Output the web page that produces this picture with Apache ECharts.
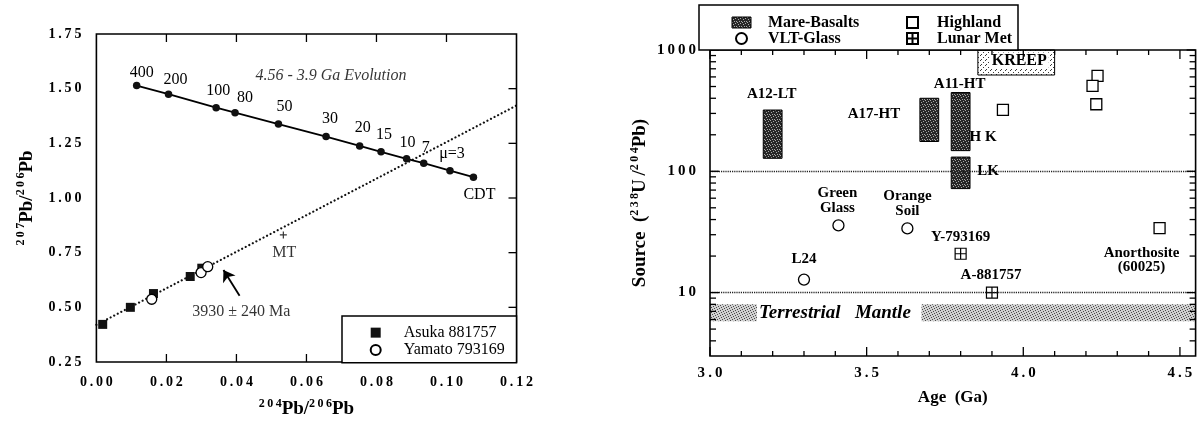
<!DOCTYPE html>
<html>
<head>
<meta charset="utf-8">
<script src="https://cdn.jsdelivr.net/npm/echarts@6/dist/echarts.min.js"></script>
<style>
  html, body { margin: 0; padding: 0; background: #fff; }
  #c { width: 1201px; height: 424px; }
</style>
</head>
<body>
<div id="c"></div>
<script>
// ---------- Pb-Pb isochron panel ----------
const cdtLabels = ['400', '200', '100', '80', '50', '30', '20', '15', '10', '7', 'μ=3', 'CDT'];
const cdtX = [0.0115, 0.0206, 0.0342, 0.0396, 0.0520, 0.0656, 0.0752, 0.0813, 0.0886, 0.0935, 0.1010, 0.1077];
const cdtY = [1.514, 1.475, 1.413, 1.390, 1.338, 1.281, 1.238, 1.211, 1.179, 1.159, 1.125, 1.095];
const isochronX = [0, 0.12];
const isochronY = [0.42, 1.423];
const asukaX = [0.0018, 0.0097, 0.0163, 0.0268, 0.0301];
const asukaY = [0.422, 0.500, 0.563, 0.641, 0.679];
const yamatoX = [0.0158, 0.0299, 0.0318];
const yamatoY = [0.537, 0.659, 0.686];
const mtPoint = [0.0534, 0.831];
const ageNote = { text: '3930 ± 240 Ma', at: [0.0414, 0.481] };
const ageArrowFrom = [0.0409, 0.553];
const ageArrowTo = [0.0363, 0.671];
const evolutionNote = { text: '4.56 - 3.9 Ga Evolution', at: [0.0670, 1.559] };
const pbXTicks = [0.02, 0.04, 0.06, 0.08, 0.10];
const pbYTicks = [0.50, 0.75, 1.00, 1.25, 1.50];

// ---------- source mu vs age panel ----------
const basaltNames = ['A12-LT', 'A17-HT', 'A11-HT', 'LK'];
const basaltAgeMin = [3.17, 3.67, 3.77, 3.77];
const basaltAgeMax = [3.23, 3.73, 3.83, 3.83];
const basaltMuMin = [128, 176, 148, 72];
const basaltMuMax = [320, 400, 446, 131];
const kreepAge = [3.855, 4.10];
const kreepMu = [622, 1000];
const mantleAgeMin = [3.0, 3.675];
const mantleAgeMax = [3.15, 4.55];
const mantleMu = [5.8, 8.0];
const highlandNames = ['', '', '', '', 'Anorthosite\n(60025)'];
const highlandAge = [3.935, 4.237, 4.221, 4.233, 4.435];
const highlandMu = [321, 611, 506, 357, 34];
const vltNames = ['L24', 'Green\nGlass', 'Orange\nSoil'];
const vltAge = [3.30, 3.41, 3.63];
const vltMu = [12.8, 35.8, 33.8];
const metNames = ['Y-793169', 'A-881757'];
const metAge = [3.80, 3.90];
const metMu = [20.9, 10.0];
const muRefLines = [100, 10];
const ageMajorTicks = [3.0, 3.5, 4.0, 4.5];
const ageMinorTicks = [3.1, 3.2, 3.3, 3.4, 3.6, 3.7, 3.8, 3.9, 4.1, 4.2, 4.3, 4.4];
const muMajorTicks = [10, 100, 1000];
const muMinorTicks = [4, 5, 6, 7, 8, 9, 20, 30, 40, 50, 60, 70, 80, 90, 200, 300, 400, 500, 600, 700, 800, 900];

// ---------- styling helpers ----------
const SERIF = '"Liberation Serif", "Times New Roman", serif';
const spaced = s => String(s).split('').join('\u2009');

function stipple(base, dot, cells, n) {
  const c = document.createElement('canvas');
  c.width = c.height = n;
  const g = c.getContext('2d');
  g.fillStyle = base; g.fillRect(0, 0, n, n);
  g.fillStyle = dot;
  cells.forEach(([i, j]) => g.fillRect(i, j, 1, 1));
  return { image: c, repeat: 'repeat' };
}
const basaltFill = stipple('#262626', '#a8a8a8', [[0, 0], [3, 1], [1, 2], [4, 4], [2, 4]], 5);
const kreepFill = stipple('#ffffff', '#3a3a3a', [[0, 0], [3, 2], [1, 4]], 5);
const mantleFill = stipple('#d0d0d0', '#4a4a4a', [[0, 0], [3, 1], [1, 2], [4, 3], [2, 4]], 5);

// label centre shifts (px) relative to each mark
const cdtLabelShift = {
  '400': [5, -13], '200': [7, -14], '100': [2, -17], '80': [10, -15], '50': [6, -17],
  '30': [4, -18], '20': [3, -18], '15': [3, -17], '10': [1, -16], '7': [2, -15],
  'μ=3': [2, -17], 'CDT': [6, 18]
};
const pointLabelShift = {
  'L24': [0, -20], 'Green\nGlass': [-1, -25], 'Orange\nSoil': [0, -25],
  'Y-793169': [0, -17], 'A-881757': [-1, -17], 'Anorthosite\n(60025)': [-18, 32]
};
// tags on the basalt boxes: anchor on the box, then shift
const basaltTags = {
  'A12-LT': [{ text: 'A12-LT', ax: 'mid', ay: 'top', dx: -1, dy: -16 }],
  'A17-HT': [{ text: 'A17-HT', ax: 'left', ay: 'mid', dx: -46, dy: -6 }],
  'A11-HT': [{ text: 'A11-HT', ax: 'mid', ay: 'top', dx: -1, dy: -8 },
             { text: 'H K', ax: 'right', ay: 'bottom', dx: 13, dy: -14 }],
  'LK': [{ text: 'LK', ax: 'right', ay: 'mid', dx: 18, dy: -2, bg: '#fff' }]
};

const boldText = size => ({ fontFamily: SERIF, fontWeight: 'bold', fontSize: size, color: '#000' });

function tickRenderer(o) {
  return function (params, api) {
    const cs = params.coordSys;
    const kind = api.value(2);
    const st = { stroke: '#000', lineWidth: 1.3 };
    const out = [];
    if (kind < 2) {
      const len = kind === 0 ? o.xMajor : o.xMinor;
      const px = api.coord([api.value(0), api.value(1)])[0];
      const b = cs.y + cs.height, t = cs.y;
      out.push({ type: 'line', shape: { x1: px, y1: b, x2: px, y2: b - len }, style: st });
      out.push({ type: 'line', shape: { x1: px, y1: t, x2: px, y2: t + len }, style: st });
    } else {
      const len = kind === 2 ? o.yMajor : o.yMinor;
      const py = api.coord([api.value(0), api.value(1)])[1];
      const l = cs.x, r = cs.x + cs.width;
      if (o.left) out.push({ type: 'line', shape: { x1: l, y1: py, x2: l + len, y2: py }, style: st });
      out.push({ type: 'line', shape: { x1: r, y1: py, x2: r - len, y2: py }, style: st });
    }
    return { type: 'group', children: out };
  };
}

const pbTickData = pbXTicks.map(v => [v, 1.0, 0]).concat(pbYTicks.map(v => [0.06, v, 2]));
const muTickData = ageMajorTicks.map(v => [v, 10, 0])
  .concat(ageMinorTicks.map(v => [v, 10, 1]))
  .concat(muMajorTicks.map(v => [3.5, v, 2]))
  .concat(muMinorTicks.map(v => [3.5, v, 3]));

const sup = { fontFamily: SERIF, fontWeight: 'bold', fontSize: 12, verticalAlign: 'top', color: '#000' };
const mainName = { fontFamily: SERIF, fontWeight: 'bold', fontSize: 19, lineHeight: 23, color: '#000' };

const chart = echarts.init(document.getElementById('c'));
chart.setOption({
  animation: false,
  backgroundColor: '#fff',
  grid: [
    { left: 96.4, right: 684.5, top: 34, bottom: 61.3, show: true, z: 10,
      borderColor: '#000', borderWidth: 1.6, backgroundColor: 'rgba(0,0,0,0)' },
    { left: 710, right: 5.4, top: 50, bottom: 68, show: true, z: 10,
      borderColor: '#000', borderWidth: 1.6, backgroundColor: 'rgba(0,0,0,0)' }
  ],
  xAxis: [
    { gridIndex: 0, type: 'value', min: 0, max: 0.12, interval: 0.02,
      axisLine: { show: false }, axisTick: { show: false }, splitLine: { show: false },
      axisLabel: Object.assign(boldText(14), { margin: 13, formatter: v => spaced(v.toFixed(2)) }),
      name: '{s|2\u20090\u20094}{b|Pb/}{s|2\u20090\u20096}{b|Pb}', nameLocation: 'middle', nameGap: 36,
      nameTextStyle: { rich: { s: sup, b: mainName } } },
    { gridIndex: 1, type: 'value', min: 3.0, max: 4.55, interval: 0.5,
      axisLine: { show: false }, axisTick: { show: false }, splitLine: { show: false },
      axisLabel: Object.assign(boldText(15), { margin: 10, interval: 0, showMaxLabel: true,
        formatter: v => Math.abs(v * 2 - Math.round(v * 2)) < 1e-6 ? spaced(v.toFixed(1)) : '' }),
      name: 'Age  (Ga)', nameLocation: 'middle', nameGap: 33,
      nameTextStyle: boldText(17) }
  ],
  yAxis: [
    { gridIndex: 0, type: 'value', min: 0.25, max: 1.75, interval: 0.25,
      axisLine: { show: false }, axisTick: { show: false }, splitLine: { show: false },
      axisLabel: Object.assign(boldText(14), { margin: 15, formatter: v => spaced(v.toFixed(2)) }),
      name: '{s|2\u20090\u20097}{b|Pb/}{s|2\u20090\u20096}{b|Pb}', nameLocation: 'middle', nameGap: 58,
      nameTextStyle: { rich: { s: sup, b: mainName } } },
    { gridIndex: 1, type: 'log', logBase: 10, min: 3, max: 1000,
      axisLine: { show: false }, axisTick: { show: false }, splitLine: { show: false },
      axisLabel: Object.assign(boldText(15), { margin: 14, interval: 0,
        formatter: v => {
          const e = Math.log10(v);
          return (v >= 9 && Math.abs(e - Math.round(e)) < 1e-6) ? spaced(String(Math.round(v))) : '';
        } }),
      name: '{b|Source  (}{s|2\u20093\u20098}{b|U\u2009/}{s|2\u20090\u20094}{b|Pb)}',
      nameLocation: 'middle', nameGap: 58,
      nameTextStyle: { rich: { s: sup, b: mainName } } }
  ],
  legend: [
    { left: 369.7, top: 324, orient: 'vertical', itemWidth: 10, itemHeight: 10, itemGap: 0,
      padding: 0, selectedMode: false, z: 12,
      textStyle: { fontFamily: SERIF, fontSize: 16, color: '#000', lineHeight: 17.3, padding: [0, 0, 0, 18] },
      data: ['Asuka 881757', 'Yamato 793169'] },
    { left: 731.5, top: 14.5, orient: 'vertical', itemWidth: 19, itemHeight: 11, itemGap: 0,
      padding: 0, selectedMode: false, z: 12,
      textStyle: Object.assign(boldText(16), { lineHeight: 12.7, padding: [0, 0, 0, 12] }),
      data: [{ name: 'Mare-Basalts', icon: 'rect',
               itemStyle: { color: basaltFill, borderColor: '#000', borderWidth: 1 } }, 'VLT-Glass'] },
    { left: 906, top: 14.5, orient: 'vertical', itemWidth: 11, itemHeight: 11, itemGap: 0,
      padding: 0, selectedMode: false, z: 12,
      textStyle: Object.assign(boldText(16), { lineHeight: 12.7, padding: [0, 0, 0, 14] }),
      data: ['Highland', 'Lunar Met'] }
  ],
  graphic: [
    { type: 'rect', z: 11, shape: { x: 342, y: 316, width: 174.5, height: 46.7 },
      style: { fill: '#fff', stroke: '#000', lineWidth: 1.5 } },
    { type: 'rect', z: 11, shape: { x: 699, y: 5, width: 319, height: 45 },
      style: { fill: '#fff', stroke: '#000', lineWidth: 1.5 } }
  ],
  series: [
    // --- left panel ---
    { type: 'line', name: 'isochron', xAxisIndex: 0, yAxisIndex: 0, z: 2, symbol: 'none', silent: true,
      data: isochronX.map((x, i) => [x, isochronY[i]]),
      lineStyle: { color: '#111', width: 2.2, type: [0.01, 4], cap: 'round' },
      markLine: { silent: true, symbol: ['none', 'arrow'], symbolSize: 11, label: { show: false },
        lineStyle: { color: '#000', width: 1.8, type: 'solid' },
        data: [[{ coord: ageArrowFrom }, { coord: ageArrowTo }]] } },
    { type: 'line', name: 'CDT', xAxisIndex: 0, yAxisIndex: 0, z: 3, symbol: 'circle', symbolSize: 7.5,
      showAllSymbol: true, silent: true,
      lineStyle: { color: '#000', width: 1.8 }, itemStyle: { color: '#111' },
      data: cdtX.map((x, i) => ({ value: [x, cdtY[i]], name: cdtLabels[i],
        label: { show: true, position: 'inside', offset: cdtLabelShift[cdtLabels[i]], formatter: '{b}',
          fontFamily: SERIF, fontSize: 16, color: '#000' } })) },
    { type: 'scatter', name: 'Asuka 881757', xAxisIndex: 0, yAxisIndex: 0, z: 4, symbol: 'rect', symbolSize: 9,
      itemStyle: { color: '#111', opacity: 1 },
      data: asukaX.map((x, i) => [x, asukaY[i]]) },
    { type: 'scatter', name: 'Yamato 793169', xAxisIndex: 0, yAxisIndex: 0, z: 5, symbol: 'circle', symbolSize: 10,
      itemStyle: { color: '#fff', borderColor: '#000', borderWidth: 1.3, opacity: 1 },
      data: yamatoX.map((x, i) => [x, yamatoY[i]]) },
    { type: 'scatter', name: 'MT', xAxisIndex: 0, yAxisIndex: 0, z: 4,
      symbol: 'path://M5,0V10M0,5H10', symbolSize: 7,
      itemStyle: { color: 'none', borderColor: '#000', borderWidth: 1.2 },
      label: { show: true, formatter: 'MT', position: 'inside', offset: [1, 18], fontFamily: SERIF, fontSize: 16, color: '#000' },
      data: [mtPoint] },
    { type: 'scatter', name: 'notes', xAxisIndex: 0, yAxisIndex: 0, z: 5, symbolSize: 0, silent: true,
      data: [
        { value: ageNote.at, name: ageNote.text,
          label: { show: true, position: 'inside', formatter: '{b}', fontFamily: SERIF, fontSize: 16, color: '#000' } },
        { value: evolutionNote.at, name: evolutionNote.text,
          label: { show: true, position: 'inside', formatter: '{b}', fontFamily: SERIF, fontStyle: 'italic', fontSize: 16, color: '#000' } }
      ] },
    { type: 'custom', name: 'pbTicks', xAxisIndex: 0, yAxisIndex: 0, z: 9, silent: true, clip: false,
      renderItem: tickRenderer({ xMajor: 8, xMinor: 8, yMajor: 8, yMinor: 8, left: false }),
      data: pbTickData },

    // --- right panel ---
    { type: 'custom', name: 'Terrestrial Mantle', xAxisIndex: 1, yAxisIndex: 1, z: 1, silent: true,
      encode: { x: [0, 1], y: [2, 3] },
      data: mantleAgeMin.map((a, i) => [a, mantleAgeMax[i], mantleMu[0], mantleMu[1]]),
      renderItem: (params, api) => {
        const p0 = api.coord([api.value(0), api.value(3)]);
        const p1 = api.coord([api.value(1), api.value(2)]);
        const kids = [{ type: 'rect', shape: { x: p0[0], y: p0[1], width: p1[0] - p0[0], height: p1[1] - p0[1] },
          style: { fill: mantleFill } }];
        if (params.dataIndex === 0) {
          kids.push({ type: 'text', x: p1[0] + 2, y: (p0[1] + p1[1]) / 2,
            style: { text: 'Terrestrial   Mantle', fontFamily: SERIF, fontWeight: 'bold', fontStyle: 'italic',
              fontSize: 19, fill: '#000', align: 'left', verticalAlign: 'middle' } });
        }
        return { type: 'group', children: kids };
      } },
    { type: 'line', name: 'refLines', xAxisIndex: 1, yAxisIndex: 1, z: 1, data: [], silent: true,
      markLine: { silent: true, symbol: 'none', label: { show: false },
        lineStyle: { color: '#222', width: 1.3, type: [1.2, 1] },
        data: muRefLines.map(v => ({ yAxis: v })) } },
    { type: 'custom', name: 'KREEP', xAxisIndex: 1, yAxisIndex: 1, z: 2, silent: true,
      encode: { x: [0, 1], y: [2, 3] },
      data: [[kreepAge[0], kreepAge[1], kreepMu[0], kreepMu[1]]],
      renderItem: (params, api) => {
        const p0 = api.coord([api.value(0), api.value(3)]);
        const p1 = api.coord([api.value(1), api.value(2)]);
        return { type: 'group', children: [
          { type: 'rect', shape: { x: p0[0], y: p0[1], width: p1[0] - p0[0], height: p1[1] - p0[1] },
            style: { fill: kreepFill, stroke: '#000', lineWidth: 1 } },
          { type: 'text', x: (p0[0] + p1[0]) / 2 + 3, y: (p0[1] + p1[1]) / 2 - 2,
            style: { text: 'KREEP', fontFamily: SERIF, fontWeight: 'bold', fontSize: 16, fill: '#000',
              align: 'center', verticalAlign: 'middle', backgroundColor: '#fff', padding: [0, 2] } }
        ] };
      } },
    { type: 'custom', name: 'Mare-Basalts', xAxisIndex: 1, yAxisIndex: 1, z: 3, silent: true,
      encode: { x: [0, 1], y: [2, 3] },
      itemStyle: { color: '#333' },
      data: basaltNames.map((n, i) => ({ name: n, value: [basaltAgeMin[i], basaltAgeMax[i], basaltMuMin[i], basaltMuMax[i]] })),
      renderItem: (params, api) => {
        const p0 = api.coord([api.value(0), api.value(3)]);
        const p1 = api.coord([api.value(1), api.value(2)]);
        const kids = [{ type: 'rect', shape: { x: p0[0], y: p0[1], width: p1[0] - p0[0], height: p1[1] - p0[1] },
          style: { fill: basaltFill, stroke: '#000', lineWidth: 1 } }];
        (basaltTags[basaltNames[params.dataIndex]] || []).forEach(t => {
          const ax = t.ax === 'left' ? p0[0] : t.ax === 'right' ? p1[0] : (p0[0] + p1[0]) / 2;
          const ay = t.ay === 'top' ? p0[1] : t.ay === 'bottom' ? p1[1] : (p0[1] + p1[1]) / 2;
          kids.push({ type: 'text', x: ax + t.dx, y: ay + t.dy, z2: 5,
            style: { text: t.text, fontFamily: SERIF, fontWeight: 'bold', fontSize: 15, fill: '#000',
              align: 'center', verticalAlign: 'middle', backgroundColor: t.bg || 'transparent', padding: t.bg ? [0, 2] : 0 } });
        });
        return { type: 'group', children: kids };
      } },
    { type: 'scatter', name: 'Highland', xAxisIndex: 1, yAxisIndex: 1, z: 4, symbol: 'rect', symbolSize: 11,
      itemStyle: { color: '#fff', borderColor: '#000', borderWidth: 1.3, opacity: 1 },
      data: highlandAge.map((a, i) => ({ name: highlandNames[i], value: [a, highlandMu[i]],
        label: { show: !!highlandNames[i], position: 'inside', offset: pointLabelShift[highlandNames[i]] || [0, 0],
          formatter: '{b}', lineHeight: 14, ...boldText(15) } })) },
    { type: 'scatter', name: 'VLT-Glass', xAxisIndex: 1, yAxisIndex: 1, z: 4, symbol: 'circle', symbolSize: 11,
      itemStyle: { color: '#fff', borderColor: '#000', borderWidth: 1.3, opacity: 1 },
      data: vltAge.map((a, i) => ({ name: vltNames[i], value: [a, vltMu[i]],
        label: { show: true, position: 'inside', offset: pointLabelShift[vltNames[i]],
          formatter: '{b}', lineHeight: 15, ...boldText(15) } })) },
    { type: 'scatter', name: 'Lunar Met', xAxisIndex: 1, yAxisIndex: 1, z: 4,
      symbol: 'path://M0,0H10V10H0ZM5,0V10M0,5H10', symbolSize: 11,
      itemStyle: { color: '#fff', borderColor: '#000', borderWidth: 1.2, opacity: 1 },
      data: metAge.map((a, i) => ({ name: metNames[i], value: [a, metMu[i]],
        label: { show: true, position: 'inside', offset: pointLabelShift[metNames[i]],
          formatter: '{b}', ...boldText(15) } })) },
    { type: 'custom', name: 'muTicks', xAxisIndex: 1, yAxisIndex: 1, z: 9, silent: true, clip: false,
      renderItem: tickRenderer({ xMajor: 9, xMinor: 5, yMajor: 9, yMinor: 6, left: true }),
      data: muTickData }
  ]
});
</script>
</body>
</html>
